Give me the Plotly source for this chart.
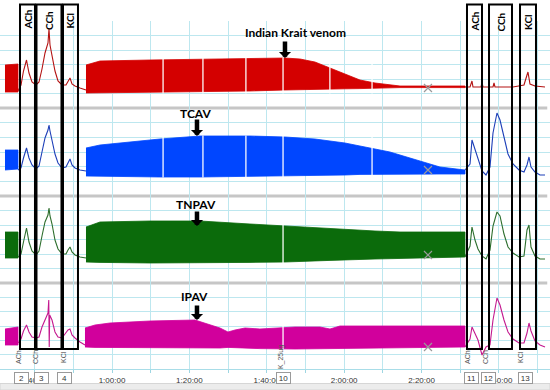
import plotly.graph_objects as go

# ---------------- data (time = minutes of recording, tension = arbitrary units) ----------------
grid_t = list(range(40, 171, 10))
label_t = [40, 60, 80, 100, 120, 140, 160]

# twitch envelope before agonists
pre_t = [32.35, 35.71]
red_pre_top = [1.30, 1.35]
red_pre_bot = [-0.05, -0.05]
blue_pre_top = [1.10, 1.10]
blue_pre_bot = [0.10, 0.15]
green_pre_top = [1.30, 1.30]
green_pre_bot = [0.00, 0.00]
mag_pre_top = [0.80, 0.90]
mag_pre_bot = [0.00, 0.00]

# twitch envelope after agonists (venom added)
red_band_t = [53.28, 56.90, 69.82, 82.74, 95.66, 104.70, 108.58, 112.45, 116.33, 120.21, 124.08, 127.96, 131.83, 134.42, 151.21]
red_band_top = [1.30, 1.50, 1.55, 1.60, 1.62, 1.65, 1.60, 1.45, 1.15, 0.85, 0.55, 0.40, 0.30, 0.25, 0.25]
red_band_bot = [-0.10, -0.08, -0.05, -0.02, 0.00, 0.05, 0.06, 0.08, 0.10, 0.11, 0.12, 0.13, 0.15, 0.17, 0.17]

blue_band_t = [53.28, 56.90, 64.65, 72.40, 82.74, 95.66, 104.70, 108.58, 112.45, 116.33, 120.21, 124.08, 127.96, 131.83, 134.42, 139.59, 144.75, 151.21]
blue_band_top = [1.20, 1.35, 1.50, 1.65, 1.80, 1.80, 1.75, 1.70, 1.65, 1.55, 1.45, 1.30, 1.15, 1.00, 0.85, 0.55, 0.25, 0.10]
blue_band_bot = [-0.20, -0.22, -0.24, -0.25, -0.25, -0.22, -0.20, -0.20, -0.18, -0.16, -0.15, -0.12, -0.10, -0.10, -0.10, -0.10, -0.10, -0.10]

green_band_t = [53.28, 56.90, 69.82, 82.74, 95.66, 104.70, 116.33, 127.96, 134.42, 151.21]
green_band_top = [1.55, 1.80, 1.85, 1.85, 1.70, 1.60, 1.45, 1.35, 1.30, 1.30]
green_band_bot = [-0.20, -0.22, -0.25, -0.25, -0.22, -0.20, -0.12, -0.05, 0.00, 0.05]

mag_band_t = [53.02, 55.61, 59.48, 69.82, 81.45, 85.32, 87.91, 89.97, 91.78, 94.37, 98.24, 107.29, 113.75, 116.33, 118.91, 134.42, 151.21]
mag_band_top = [0.85, 1.00, 1.10, 1.20, 1.25, 1.00, 0.85, 0.65, 0.75, 0.85, 0.80, 0.90, 0.90, 0.80, 0.95, 0.95, 0.95]
mag_band_bot = [-0.10, -0.12, -0.15, -0.15, -0.15, -0.15, -0.15, -0.12, -0.15, -0.15, -0.18, -0.20, -0.20, -0.20, -0.18, -0.15, -0.10]

# agonist responses (ACh, CCh, KCl) before venom
resp_left_t = [35.71, 36.49, 37.13, 37.91, 38.55, 39.33, 40.36, 41.14, 41.91, 42.69, 43.46, 43.72,
               43.98, 44.50, 45.27, 46.05, 47.08, 48.11, 48.63, 49.15, 49.66, 50.44, 51.73, 53.28]
red_left = [0.00, 0.30, 1.00, 1.55, 0.90, 0.45, 0.30, 0.45, 1.10, 1.90, 2.40, 3.10,
            2.30, 1.80, 1.00, 0.50, 0.30, 0.30, 0.45, 0.65, 0.35, 0.25, 0.15, 0.05]
blue_left = [0.10, 0.20, 0.70, 1.20, 0.70, 0.35, 0.15, 0.30, 1.00, 1.70, 2.10, 2.35,
             2.05, 1.60, 0.90, 0.45, 0.20, 0.25, 0.45, 0.65, 0.35, 0.20, 0.10, 0.05]
green_left = [0.05, 0.20, 0.80, 1.50, 0.80, 0.35, 0.15, 0.35, 1.10, 1.80, 2.15, 2.50,
              2.10, 1.70, 0.90, 0.45, 0.20, 0.20, 0.40, 0.55, 0.30, 0.15, 0.05, 0.00]
mag_left_t = [35.71, 36.49, 37.13, 37.91, 38.55, 39.33, 40.36, 41.14, 41.91, 42.69, 43.46, 43.66, 43.78,
              43.90, 44.50, 45.27, 46.05, 47.08, 48.11, 48.63, 49.15, 49.66, 50.44, 51.73, 53.02]
mag_left = [0.10, 0.30, 0.70, 1.00, 0.65, 0.40, 0.35, 0.40, 0.90, 1.30, 1.60, 2.25, -0.10,
            1.50, 1.25, 0.65, 0.40, 0.35, 0.60, 0.75, 0.80, 0.50, 0.35, 0.15, 0.00]

# agonist responses after venom
resp_right_t = [151.21, 152.51, 153.02, 153.80, 154.57, 155.61, 156.64, 157.67, 158.45, 159.48, 160.26,
                161.29, 162.33, 163.62, 165.17, 166.46, 167.24, 167.75, 168.27, 169.30, 170.59, 171.89]
blue_right = [0.10, 0.40, 1.60, 1.10, 0.60, 0.05, -0.15, 0.25, 1.95, 2.95, 2.60,
              1.70, 0.90, 0.40, 0.10, 0.00, 0.35, 0.75, 0.25, 0.00, -0.15, -0.15]
green_right = [0.05, 0.60, 1.55, 0.90, 0.45, 0.10, -0.05, 0.40, 1.60, 2.30, 2.10,
               1.20, 0.55, 0.25, 0.05, 0.10, 1.40, 1.65, 0.55, 0.10, -0.05, -0.05]
mag_right = [-0.10, 0.30, 0.90, 0.55, 0.25, -0.50, -0.10, 0.00, 1.25, 2.35, 2.00,
             1.25, 0.65, 0.30, 0.10, 0.10, 0.60, 1.10, 0.70, 0.20, 0.00, -0.10]
red_right_t = [151.21, 152.51, 153.02, 153.28, 155.35, 155.61, 155.87, 158.45, 158.71, 158.97,
               163.62, 166.46, 167.24, 167.49, 168.01, 169.30, 171.89]
red_right = [0.20, 0.20, 0.50, 0.20, 0.20, 0.45, 0.20, 0.20, 0.40, 0.20,
             0.20, 0.30, 0.80, 0.95, 0.35, 0.25, 0.20]

# recording gaps (white lines through the twitch band)
red_gaps = [73.2, 83.5, 94.6, 104.2, 116.3, 127.2]
blue_gaps = [73.2, 83.5, 94.6, 104.2, 127.2]
green_gaps = [104.2]
mag_gaps = [104.2]

# comment markers (x)
cross_t = 141.65
red_cross = 0.15
blue_cross = 0.10
green_cross = 0.15
mag_cross = -0.10

# agonist application windows
agonists = ["ACh", "CCh", "KCl"]
left_windows = [(36.23, 40.10), (40.49, 46.95), (47.34, 51.21)]
right_windows = [(151.73, 155.61), (157.42, 163.36), (165.43, 169.56)]

# event comments and numbers on the time axis
event_names = ["ACh", "CCh", "KCl", "K_25ug", "ACh", "CCh", "KCl"]
event_t = [35.71, 40.10, 47.34, 103.70, 151.73, 156.39, 165.43]
num_labels = ["2", "3", "4", "10", "11", "12", "13"]
num_t = [36.74, 41.78, 47.73, 104.44, 152.77, 157.16, 166.72]

# trace labels with arrows
trace_labels = ["Indian Krait venom", "TCAV", "TNPAV", "IPAV"]
label_t_pos = [107.3, 81.7, 81.7, 81.2]
arrow_t = [104.7, 81.96, 81.96, 81.96]

# ---------------- layout geometry ----------------
W, H = 550, 390
MB = 21
PH = H - MB


def pp(py):
    return (PH - py) / PH


X_RANGE = [31.06, 173.18]
UNIT_PX = 20.0
GRID = "#bde7ef"

panels = [
    dict(top=21, bot=108, base=91, fill="#d40000", line="#b31212",
         pre_top=red_pre_top, pre_bot=red_pre_bot, bt=red_band_t, btop=red_band_top, bbot=red_band_bot,
         lt=resp_left_t, lv=red_left, rt=red_right_t, rv=red_right, gaps=red_gaps, cross=red_cross,
         label_py=32.5, tail_py=40, tip_py=58),
    dict(top=108, bot=196, base=172, fill="#0046ff", line="#1d3fb8",
         pre_top=blue_pre_top, pre_bot=blue_pre_bot, bt=blue_band_t, btop=blue_band_top, bbot=blue_band_bot,
         lt=resp_left_t, lv=blue_left, rt=resp_right_t, rv=blue_right, gaps=blue_gaps, cross=blue_cross,
         label_py=113, tail_py=118, tip_py=136),
    dict(top=196, bot=283, base=258, fill="#0b6b0b", line="#2d6e2d",
         pre_top=green_pre_top, pre_bot=green_pre_bot, bt=green_band_t, btop=green_band_top, bbot=green_band_bot,
         lt=resp_left_t, lv=green_left, rt=resp_right_t, rv=green_right, gaps=green_gaps, cross=green_cross,
         label_py=204, tail_py=210, tip_py=226),
    dict(top=283, bot=369, base=345, fill="#d1009c", line="#c4198f",
         pre_top=mag_pre_top, pre_bot=mag_pre_bot, bt=mag_band_t, btop=mag_band_top, bbot=mag_band_bot,
         lt=mag_left_t, lv=mag_left, rt=resp_right_t, rv=mag_right, gaps=mag_gaps, cross=mag_cross,
         label_py=296, tail_py=304, tip_py=320),
]

fig = go.Figure()
layout = dict(
    width=W, height=H,
    margin=dict(l=0, r=0, t=0, b=MB, pad=0),
    paper_bgcolor="white", plot_bgcolor="white",
    showlegend=False,
    font=dict(family="Liberation Sans", color="#333"),
)

ticktext = [f"{t // 60}:{t % 60:02d}:00" if t in label_t else "" for t in grid_t]

annotations = []
shapes = []

for i, p in enumerate(panels):
    s = "" if i == 0 else str(i + 1)
    xa, ya = "x" + s, "y" + s
    lo = (p["base"] - p["bot"]) / UNIT_PX
    hi = (p["base"] - p["top"]) / UNIT_PX
    last = i == len(panels) - 1
    layout["xaxis" + s] = dict(
        domain=[0, 1], range=X_RANGE, anchor=ya,
        tickmode="array", tickvals=grid_t, ticktext=ticktext if last else None,
        showticklabels=last, ticks="outside" if last else "", ticklen=3, tickcolor="#9ed6e2",
        tickfont=dict(size=8, color="#333", family="Liberation Sans"),
        showgrid=True, gridcolor=GRID, gridwidth=1, zeroline=False,
        showline=last, linecolor="#a8dde8", linewidth=1,
    )
    layout["yaxis" + s] = dict(
        domain=[pp(p["bot"]), pp(p["top"])], range=[lo, hi], anchor=xa,
        tickmode="array", tickvals=[lo + k * (hi - lo) / 6 for k in range(7)],
        showticklabels=False, ticks="", showgrid=True, gridcolor=GRID, gridwidth=1,
        zeroline=False, showline=False,
    )

    # twitch bands
    for tt, top, bot in [(pre_t, p["pre_top"], p["pre_bot"]), (p["bt"], p["btop"], p["bbot"])]:
        fig.add_trace(go.Scatter(
            x=list(tt) + list(tt)[::-1], y=list(top) + list(bot)[::-1],
            fill="toself", fillcolor=p["fill"], mode="lines",
            line=dict(color=p["fill"], width=0.8), xaxis=xa, yaxis=ya, hoverinfo="skip"))

    # gaps
    gx, gy = [], []
    for g in p["gaps"]:
        gx += [g, g, None]
        gy += [min(p["bbot"]) - 0.02, max(p["btop"]) + 0.02, None]
    fig.add_trace(go.Scatter(x=gx, y=gy, mode="lines",
                             line=dict(color="rgba(255,255,255,0.9)", width=1.4),
                             xaxis=xa, yaxis=ya, hoverinfo="skip"))

    # agonist responses
    for tt, vv in [(p["lt"], p["lv"]), (p["rt"], p["rv"])]:
        fig.add_trace(go.Scatter(x=tt, y=vv, mode="lines",
                                 line=dict(color=p["line"], width=1.1),
                                 xaxis=xa, yaxis=ya, hoverinfo="skip"))

    # comment marker
    fig.add_trace(go.Scatter(x=[cross_t], y=[p["cross"]], mode="markers",
                             marker=dict(symbol="x-thin", size=8, line=dict(color="#9a9a9a", width=1.2)),
                             xaxis=xa, yaxis=ya, hoverinfo="skip"))

    # label + arrow
    annotations.append(dict(x=label_t_pos[i], y=pp(p["label_py"]), xref="x", yref="paper",
                            text="<b>" + trace_labels[i] + "</b>", showarrow=False,
                            font=dict(family="Lato", size=12, color="black"),
                            xanchor="center", yanchor="middle"))
    annotations.append(dict(x=arrow_t[i], y=pp(p["tip_py"]), xref="x", yref="paper",
                            text="", showarrow=True, ax=0, ay=-(p["tip_py"] - p["tail_py"]),
                            arrowhead=1, arrowwidth=4.5, arrowsize=0.45, arrowcolor="black",
                            standoff=0, startstandoff=0))

# grey panel separators
for py in [108, 196, 283]:
    shapes.append(dict(type="line", xref="paper", yref="paper", x0=0, x1=0.995, y0=pp(py), y1=pp(py),
                       line=dict(color="#c6c6c6", width=3), layer="between"))

# agonist boxes and labels
for windows, label_py in [(left_windows, 20), (right_windows, 22)]:
    for name, (a, b) in zip(agonists, windows):
        shapes.append(dict(type="rect", xref="x", yref="paper", x0=a, x1=b, y0=pp(349), y1=pp(4.5),
                           line=dict(color="black", width=2), fillcolor="rgba(0,0,0,0)", layer="above"))
        annotations.append(dict(x=(a + b) / 2, y=pp(label_py), xref="x", yref="paper",
                                text="<b>" + name + "</b>", showarrow=False, textangle=-90,
                                font=dict(family="Lato", size=10, color="black"),
                                xanchor="center", yanchor="middle"))

# event comments (rotated small grey)
for name, t in zip(event_names, event_t):
    annotations.append(dict(x=t, y=pp(357), xref="x", yref="paper", text=name, showarrow=False,
                            textangle=-90, font=dict(family="Liberation Sans", size=7, color="#555"),
                            xanchor="center", yanchor="middle"))

# event numbers on time axis
for lab, t in zip(num_labels, num_t):
    annotations.append(dict(x=t, y=pp(377.5), xref="x", yref="paper", text=lab, showarrow=False,
                            font=dict(family="Liberation Sans", size=8, color="#333"),
                            bgcolor="white", bordercolor="#9a9a9a", borderwidth=1, borderpad=1,
                            width=11, height=8, xanchor="center", yanchor="middle"))

# bottom scroll bar
shapes.append(dict(type="rect", xref="paper", yref="paper", x0=0, x1=1, y0=pp(390), y1=pp(383.5),
                   fillcolor="#ececec", line=dict(color="#d6d6d6", width=1), layer="above"))

layout["annotations"] = annotations
layout["shapes"] = shapes
fig.update_layout(**layout)

fig.write_html("out.html", config={"displayModeBar": False})

# remove the browser's default page margin so the figure sits at the window's top-left corner
with open("out.html", "r", encoding="utf-8") as f:
    html = f.read()
html = html.replace("<head>", "<head><style>html,body{margin:0;padding:0;overflow:hidden;}</style>", 1)
with open("out.html", "w", encoding="utf-8") as f:
    f.write(html)
